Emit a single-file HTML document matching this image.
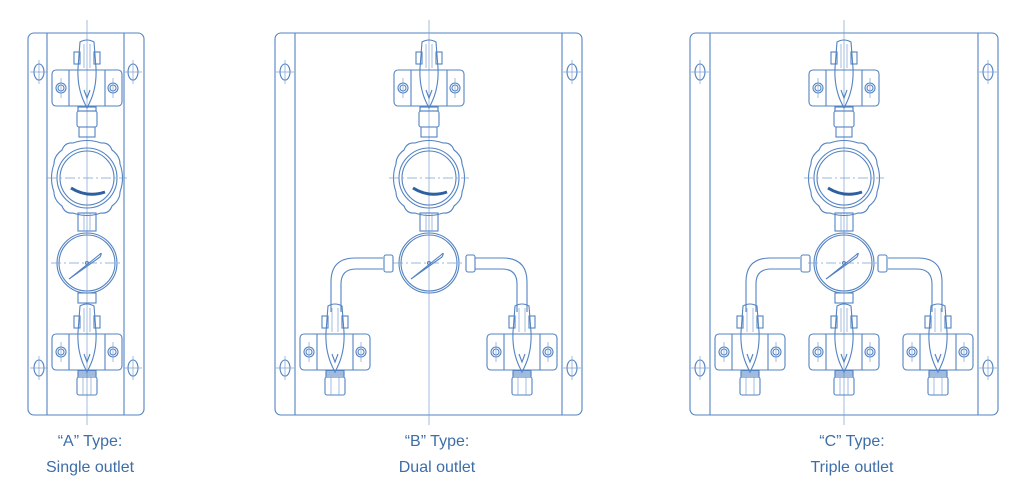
<!DOCTYPE html>
<html><head><meta charset="utf-8"><style>
html,body{margin:0;padding:0;background:#fff;width:1024px;height:492px;overflow:hidden}
svg{display:block}
.l{fill:none;stroke:#5383c2;stroke-width:1.1}
.t{fill:none;stroke:#7aa2d4;stroke-width:0.7}
.c{fill:none;stroke:#7aa2d4;stroke-width:0.7;stroke-dasharray:10 3 2 3}
text{font-family:"Liberation Sans","Noto Sans CJK SC",sans-serif;font-size:16px;fill:#3d6ea8;text-anchor:middle}
</style></head><body>
<svg width="1024" height="492" viewBox="0 0 1024 492">
<defs>
<g id="hole">
  <ellipse class="l" cx="0" cy="0" rx="5" ry="8"/>
  <line class="t" x1="-9" y1="0" x2="9" y2="0"/><line class="t" x1="0" y1="-12" x2="0" y2="12"/>
</g>
<g id="valve">
  <rect class="l" x="-35" y="-18" width="70" height="36" rx="4"/>
  <line class="l" x1="-18" y1="-18" x2="-18" y2="18"/>
  <line class="l" x1="18" y1="-18" x2="18" y2="18"/>
  <circle class="l" cx="-26" cy="0" r="5"/><circle class="l" cx="-26" cy="0" r="3"/>
  <circle class="l" cx="26" cy="0" r="5"/><circle class="l" cx="26" cy="0" r="3"/>
  <line class="t" x1="-26" y1="-10" x2="-26" y2="10"/><line class="t" x1="26" y1="-10" x2="26" y2="10"/>
  <rect class="l" x="-13" y="-36" width="6" height="12" fill="#fff"/>
  <rect class="l" x="7" y="-36" width="6" height="12" fill="#fff"/>
  <path class="l" d="M-7,-46 Q0,-50 7,-46 L9,-20 Q10,0 2,16 L0,20 L-2,16 Q-10,0 -9,-20 Z" fill="#fff"/>
  <path class="t" d="M-3,-44 L-3,-20 M3,-44 L3,-20"/>
  <path class="l" d="M-3,2 L0,10 L3,2"/>
  <rect class="l" x="-9" y="19" width="18" height="4"/>
</g>
<g id="fit">
  <rect class="l" x="-9" y="0" width="18" height="4"/>
  <rect class="l" x="-10" y="4" width="20" height="18" rx="2"/>
  <line class="t" x1="-4" y1="4" x2="-4" y2="22"/><line class="t" x1="4" y1="4" x2="4" y2="22"/>
</g>
<g id="reg">
  <path class="l" d="M-14,-35 Q0,-40 14,-35 Q22,-36 25,-28 Q33,-22 33,-14 Q38,0 33,14 Q33,22 25,28 Q22,36 14,35 Q0,40 -14,35 Q-22,36 -25,28 Q-33,22 -33,14 Q-38,0 -33,-14 Q-33,-22 -25,-28 Q-22,-36 -14,-35 Z"/>
  <circle class="l" r="30"/><circle class="l" r="27"/>
  <line class="c" x1="-40" y1="0" x2="40" y2="0"/>
  <path d="M-16,10 Q0,20 18,14" fill="none" stroke="#2e5f9e" stroke-width="3"/>
</g>
<g id="gauge">
  <circle class="l" r="30"/><circle class="l" r="28"/>
  <line class="c" x1="-36" y1="0" x2="36" y2="0"/>
  <path class="l" d="M-18,16 L12,-8 Q16,-12 13,-6 Z"/>
  <circle class="l" r="1.5"/>
</g>
<g id="top">
  <use href="#valve" transform="translate(0,88)"/>
  <rect class="l" x="-9" y="107" width="18" height="4"/>
  <rect class="l" x="-10" y="111" width="20" height="16" rx="2"/>
  <rect class="l" x="-8" y="127" width="16" height="10"/>
  <use href="#reg" transform="translate(0,178)"/>
  <rect class="l" x="-9" y="213" width="18" height="18"/>
  <line class="t" x1="-3" y1="213" x2="-3" y2="231"/><line class="t" x1="3" y1="213" x2="3" y2="231"/>
  <use href="#gauge" transform="translate(0,263)"/>
</g>
</defs>

<rect class="l" x="28" y="33" width="116" height="382" rx="6"/>
<line class="l" x1="47" y1="33" x2="47" y2="415"/><line class="l" x1="124" y1="33" x2="124" y2="415"/>
<line class="t" x1="87" y1="20" x2="87" y2="425"/>
<use href="#hole" transform="translate(39,72)"/><use href="#hole" transform="translate(133,72)"/>
<use href="#hole" transform="translate(39,368)"/><use href="#hole" transform="translate(133,368)"/>
<g transform="translate(87,0)">
  <use href="#top"/>
  <rect class="l" x="-9" y="293" width="18" height="10"/>
  <use href="#valve" transform="translate(0,352)"/>
  <use href="#fit" transform="translate(0,373)"/>
</g>

<rect class="l" x="275" y="33" width="307" height="382" rx="6"/>
<line class="l" x1="295" y1="33" x2="295" y2="415"/><line class="l" x1="562" y1="33" x2="562" y2="415"/>
<line class="t" x1="429" y1="20" x2="429" y2="425"/>
<use href="#hole" transform="translate(285,72)"/><use href="#hole" transform="translate(572,72)"/>
<use href="#hole" transform="translate(285,368)"/><use href="#hole" transform="translate(572,368)"/>
<g transform="translate(429,0)"><use href="#top"/></g>
<path class="l" d="M383,258 L355,258 Q331,258 331,282 L331,312 M383,269 L356,269 Q341,269 341,284 L341,312"/>
<path class="l" d="M475,258 L503,258 Q527,258 527,282 L527,312 M475,269 L502,269 Q517,269 517,284 L517,312"/>
<rect class="l" x="384" y="255" width="9" height="17" rx="2"/><rect class="l" x="466" y="255" width="9" height="17" rx="2"/>
<use href="#valve" transform="translate(335,352)"/><use href="#fit" transform="translate(335,373)"/>
<use href="#valve" transform="translate(522,352)"/><use href="#fit" transform="translate(522,373)"/>

<rect class="l" x="690" y="33" width="308" height="382" rx="6"/>
<line class="l" x1="710" y1="33" x2="710" y2="415"/><line class="l" x1="978" y1="33" x2="978" y2="415"/>
<line class="t" x1="844" y1="20" x2="844" y2="425"/>
<use href="#hole" transform="translate(700,72)"/><use href="#hole" transform="translate(988,72)"/>
<use href="#hole" transform="translate(700,368)"/><use href="#hole" transform="translate(988,368)"/>
<g transform="translate(844,0)"><use href="#top"/>
  <rect class="l" x="-9" y="293" width="18" height="10"/>
</g>
<path class="l" d="M800,258 L770,258 Q746,258 746,282 L746,312 M800,269 L771,269 Q756,269 756,284 L756,312"/>
<path class="l" d="M888,258 L918,258 Q942,258 942,282 L942,312 M888,269 L917,269 Q932,269 932,284 L932,312"/>
<rect class="l" x="801" y="255" width="9" height="17" rx="2"/><rect class="l" x="878" y="255" width="9" height="17" rx="2"/>
<use href="#valve" transform="translate(750,352)"/><use href="#fit" transform="translate(750,373)"/>
<use href="#valve" transform="translate(844,352)"/><use href="#fit" transform="translate(844,373)"/>
<use href="#valve" transform="translate(938,352)"/><use href="#fit" transform="translate(938,373)"/>

<text x="90" y="446">“A”  Type:</text><text x="90" y="472">Single outlet</text>
<text x="437" y="446">“B”  Type:</text><text x="437" y="472">Dual outlet</text>
<text x="852" y="446">“C”  Type:</text><text x="852" y="472">Triple outlet</text>
</svg>
</body></html>
